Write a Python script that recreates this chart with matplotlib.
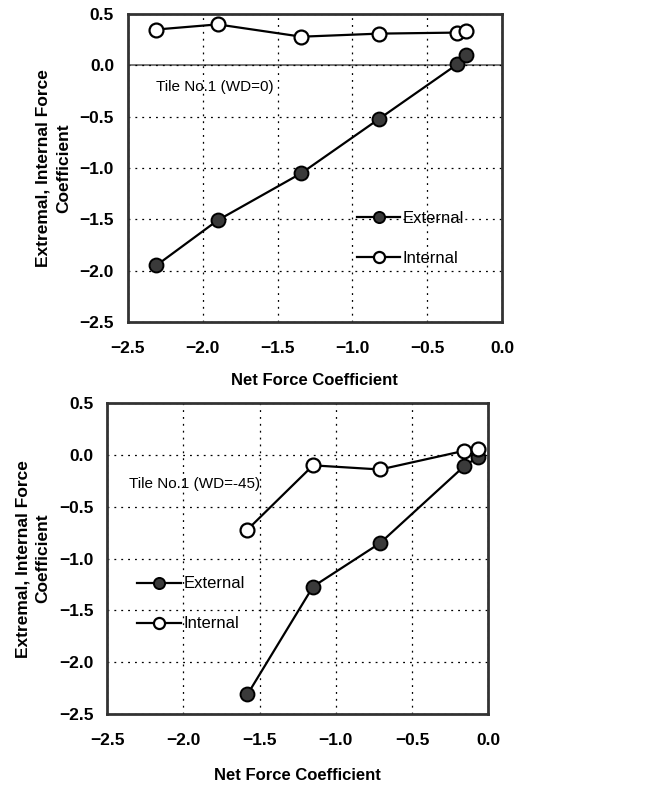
import matplotlib.pyplot as plt

plt.rcParams['font.family'] = ['Liberation Sans', 'DejaVu Sans']

# WD=0
net_0 = [-2.31, -1.90, -1.34, -0.82, -0.30, -0.24]
ext_0 = [-1.95, -1.51, -1.05, -0.52, 0.01, 0.10]
int_0 = [0.35, 0.40, 0.28, 0.31, 0.32, 0.34]

# WD=-45
net_45 = [-1.58, -1.15, -0.71, -0.16, -0.07]
ext_45 = [-2.31, -1.27, -0.85, -0.11, -0.02]
int_45 = [-0.72, -0.10, -0.14, 0.04, 0.06]

xticks = [-2.5, -2.0, -1.5, -1.0, -0.5, 0.0]
yticks = [0.5, 0.0, -0.5, -1.0, -1.5, -2.0, -2.5]


def fmt(v):
    return ('%.1f' % abs(v)) if v >= 0 else '\u2212%.1f' % abs(v)


fig = plt.figure(figsize=(6.46, 7.85), dpi=100)
ax1 = fig.add_axes([0.198, 0.590, 0.579, 0.392])
ax2 = fig.add_axes([0.166, 0.0904, 0.590, 0.396])


def style(ax, net, ext, inn, title, tpos, legpos, ylab_x, xlabel_y):
    ax.plot(net, ext, '-o', color='black', lw=1.6, ms=10, mfc='#3a3a3a',
            mec='black', mew=1.4, label='External', zorder=3)
    ax.plot(net, inn, '-o', color='black', lw=1.6, ms=10, mfc='white',
            mec='black', mew=1.6, label='Internal', zorder=3)
    ax.set_xlim(-2.5, 0.0)
    ax.set_ylim(-2.5, 0.5)
    ax.set_xticks(xticks)
    ax.set_yticks(yticks)
    ax.set_xticklabels([fmt(v) for v in xticks], fontsize=12.5, fontweight='bold')
    ax.set_yticklabels([fmt(v) for v in yticks], fontsize=12.5, fontweight='bold')
    ax.tick_params(length=0, pad=14)
    ax.tick_params(axis='y', pad=10)
    ax.grid(True, color='black', ls=(0, (1.5, 4)), lw=0.9)
    for s in ax.spines.values():
        s.set_linewidth(2)
        s.set_color('#333333')
    ax.text(tpos[0], tpos[1], title, fontsize=11, transform=ax.transData)
    ax.legend(loc='center', bbox_to_anchor=legpos, frameon=False,
              fontsize=12, handlelength=2.6, handletextpad=0.15,
              labelspacing=1.5, markerscale=0.8)
    ax.set_xlabel('Net Force Coefficient', fontsize=12, fontweight='bold',
                  labelpad=xlabel_y)
    ax.set_ylabel('Extremal, Internal Force\nCoefficient', fontsize=12.5,
                  fontweight='bold', labelpad=ylab_x, linespacing=1.45)


style(ax1, net_0, ext_0, int_0, 'Tile No.1 (WD=0)', (-2.31, -0.25),
      (0.756, 0.27), 6, 12)
ax1.axhline(0, color='#777777', lw=1.4, zorder=1)

style(ax2, net_45, ext_45, int_45, 'Tile No.1 (WD=-45)', (-2.36, -0.32),
      (0.22, 0.354), 6, 14)

fig.savefig('out.png', dpi=100)
